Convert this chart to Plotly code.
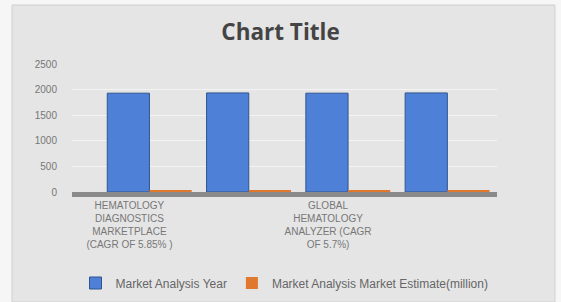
import plotly.graph_objects as go

categories = [0, 1, 2, 3]
tick_positions = [0, 2]
tick_labels = [
    "HEMATOLOGY<br>DIAGNOSTICS<br>MARKETPLACE<br>(CAGR OF 5.85% )",
    "GLOBAL<br>HEMATOLOGY<br>ANALYZER (CAGR<br>OF 5.7%)",
]
year_values = [1930, 1935, 1930, 1935]
estimate_values = [20, 20, 20, 20]

W, H = 561, 302
L, R, T, B = 72, 64, 64, 110
pw, ph = W - L - R, H - T - B


def px_x(p):
    return (p - L) / pw


def px_y(p):
    return (H - B - p) / ph


fig = go.Figure()
fig.add_trace(go.Bar(
    x=categories, y=year_values, name="Market Analysis Year",
    marker=dict(color="#4f80d8", line=dict(color="#2f558f", width=1)),
))
fig.add_trace(go.Bar(
    x=categories, y=estimate_values, name="Market Analysis Market Estimate(million)",
    marker=dict(color="#e0782e", line=dict(width=0)),
))

fig.add_shape(type="rect", xref="paper", yref="paper",
              x0=px_x(12), x1=px_x(555), y0=px_y(302), y1=px_y(5),
              fillcolor="#e5e5e5", line=dict(color="#d0d0d0", width=1), layer="below")

fig.update_layout(
    width=W, height=H,
    margin=dict(l=L, r=R, t=T, b=B, autoexpand=False),
    paper_bgcolor="#f6f6f6",
    plot_bgcolor="rgba(0,0,0,0)",
    barmode="group", bargap=0.15, bargroupgap=0,
    title=dict(text="<b>Chart Title</b>", x=0.5, xanchor="center", xref="container",
               y=1 - 32 / H, yanchor="middle",
               font=dict(family="Open Sans", size=22.5, color="#444444")),
    font=dict(family="Liberation Sans", color="#666666"),
    showlegend=True,
    legend=dict(orientation="h", x=0.5, xanchor="center", y=px_y(283), yanchor="middle",
                font=dict(size=12, color="#666666"), itemwidth=30, traceorder="normal",
                bgcolor="rgba(0,0,0,0)"),
    xaxis=dict(
        tickmode="array", tickvals=tick_positions, ticktext=tick_labels,
        range=[-0.78, 3.5], showgrid=False, zeroline=False,
        showline=True, linecolor="#8a8a8a", linewidth=5,
        tickfont=dict(size=10, color="#777777"), ticks="", ticklabelshift=-20,
    ),
    yaxis=dict(
        range=[0, 2500], tickvals=[0, 500, 1000, 1500, 2000, 2500],
        showgrid=True, gridcolor="#f3f3f3", gridwidth=1, zeroline=False,
        tickfont=dict(size=10, color="#777777"), ticklabelstandoff=14,
    ),
)

fig.write_html("out.html", config={"displayModeBar": False},
               post_script="document.body.style.margin='0';")
